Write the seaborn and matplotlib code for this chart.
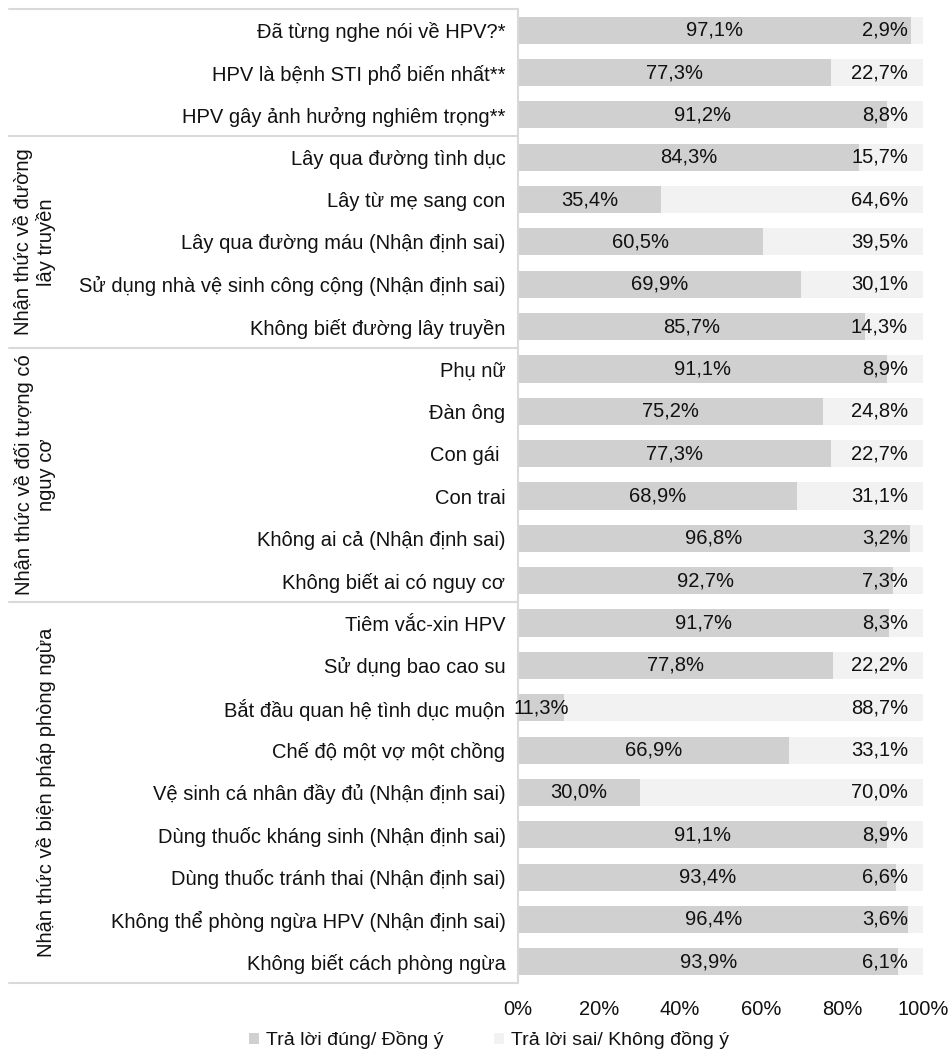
import matplotlib
matplotlib.use("Agg")
import matplotlib.pyplot as plt
import matplotlib.transforms as mtransforms
from matplotlib.patches import Patch
import seaborn as sns
import pandas as pd

categories = [
    "Đã từng nghe nói về HPV?*",
    "HPV là bệnh STI phổ biến nhất**",
    "HPV gây ảnh hưởng nghiêm trọng**",
    "Lây qua đường tình dục",
    "Lây từ mẹ sang con",
    "Lây qua đường máu (Nhận định sai)",
    "Sử dụng nhà vệ sinh công cộng (Nhận định sai)",
    "Không biết đường lây truyền",
    "Phụ nữ",
    "Đàn ông",
    "Con gái ",
    "Con trai",
    "Không ai cả (Nhận định sai)",
    "Không biết ai có nguy cơ",
    "Tiêm vắc-xin HPV",
    "Sử dụng bao cao su",
    "Bắt đầu quan hệ tình dục muộn",
    "Chế độ một vợ một chồng",
    "Vệ sinh cá nhân đầy đủ (Nhận định sai)",
    "Dùng thuốc kháng sinh (Nhận định sai)",
    "Dùng thuốc tránh thai (Nhận định sai)",
    "Không thể phòng ngừa HPV (Nhận định sai)",
    "Không biết cách phòng ngừa",
]
correct = [97.1, 77.3, 91.2, 84.3, 35.4, 60.5, 69.9, 85.7, 91.1, 75.2, 77.3, 68.9,
           96.8, 92.7, 91.7, 77.8, 11.3, 66.9, 30.0, 91.1, 93.4, 96.4, 93.9]
wrong = [2.9, 22.7, 8.8, 15.7, 64.6, 39.5, 30.1, 14.3, 8.9, 24.8, 22.7, 31.1,
         3.2, 7.3, 8.3, 22.2, 88.7, 33.1, 70.0, 8.9, 6.6, 3.6, 6.1]
series_names = ["Trả lời đúng/ Đồng ý", "Trả lời sai/ Không đồng ý"]
groups = [
    ("", 0, 2),
    ("Nhận thức về đường\nlây truyền", 3, 7),
    ("Nhận thức về đối tượng có\nnguy cơ", 8, 13),
    ("Nhận thức về biện pháp phòng ngừa", 14, 22),
]
xticks = [0, 20, 40, 60, 80, 100]

sns.set_theme(style="white")
plt.rcParams["font.family"] = ["Liberation Sans", "DejaVu Sans"]
TXT = "#111111"
DARK = "#d0d0d0"
LIGHT = "#f2f2f2"
LINE = "#d9d9d9"
FS = 14.5

df = pd.DataFrame({"cat": categories, "correct": correct, "wrong": wrong})
df["total"] = df["correct"] + df["wrong"]

fig = plt.figure(figsize=(9.5, 10.6), dpi=100)
ax = fig.add_axes([518 / 950, 1 - 983 / 1060, 405 / 950, 974 / 1060])

sns.barplot(data=df, y="cat", x="total", color=LIGHT, saturation=1, width=0.64,
            ax=ax, orient="h", linewidth=0)
sns.barplot(data=df, y="cat", x="correct", color=DARK, saturation=1, width=0.64,
            ax=ax, orient="h", linewidth=0)

ax.set_xlim(0, 100)
ax.set_ylim(len(categories) - 0.5, -0.5)
ax.set_xlabel("")
ax.set_ylabel("")
ax.set_xticks(xticks)
ax.set_xticklabels([f"{t}%" for t in xticks], fontsize=FS, color=TXT)
ax.tick_params(axis="x", length=0, pad=12)
ax.tick_params(axis="y", length=0, pad=9)
ax.set_yticks(range(len(categories)))
ax.set_yticklabels(categories, fontsize=FS, color=TXT)
for s in ["top", "right", "bottom"]:
    ax.spines[s].set_visible(False)
ax.spines["left"].set_color(LINE)
ax.spines["left"].set_linewidth(1.5)
ax.grid(False)

def fmt(v):
    return f"{v:.1f}%".replace(".", ",")

px = 100 / 405  # data units per pixel
for i, (c, w) in enumerate(zip(correct, wrong)):
    ax.text(c / 2, i, fmt(c), ha="center", va="center", fontsize=FS, color=TXT)
    ax.text(c + w - 15 * px, i, fmt(w), ha="right", va="center", fontsize=FS, color=TXT)

# group borders
trans = mtransforms.blended_transform_factory(ax.transAxes, ax.transData)
x_left = (9 - 518) / 405
bounds = [-0.5] + [g[2] + 0.5 for g in groups]
for b in bounds:
    ax.plot([x_left, 0], [b, b], color=LINE, lw=1.5, transform=trans, clip_on=False)

# group labels
for name, a, b in groups:
    if not name:
        continue
    ax.text((56 - 518) / 405, (a + b) / 2, name, transform=trans, rotation=90,
            ha="right", va="center", multialignment="center", fontsize=FS, color=TXT)

handles = [Patch(facecolor=DARK, edgecolor="none"), Patch(facecolor=LIGHT, edgecolor="none")]
fig.legend(handles, series_names, loc="center", bbox_to_anchor=(489 / 950, 1 - 1040 / 1060),
           ncol=2, frameon=False, fontsize=14, handlelength=0.5, handleheight=0.5,
           handletextpad=0.35, columnspacing=2.6, labelcolor=TXT)

fig.savefig("out.png", dpi=100)
